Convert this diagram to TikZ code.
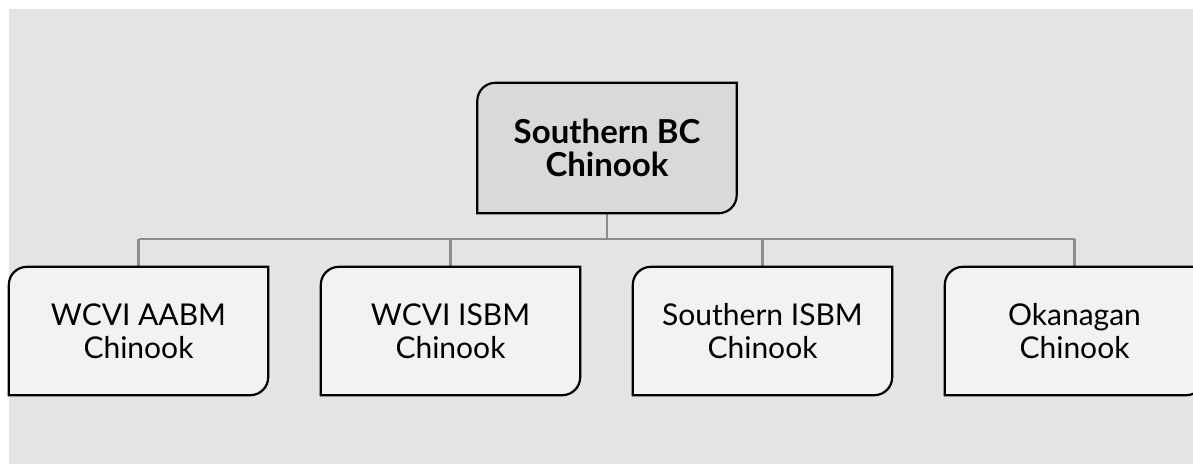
\documentclass[tikz,border=0pt]{standalone}
\usepackage{fontspec}
\setmainfont{Lato}
\definecolor{bg}{HTML}{E4E4E4}
\definecolor{topfill}{HTML}{D9D9D9}
\definecolor{childfill}{HTML}{F2F2F2}
\definecolor{conn}{HTML}{8C8C8C}
\newcommand{\leafshape}[3]{%
  \filldraw[fill=#2,draw=black,line width=2.2pt]
    (#1.south west) -- ([yshift=-#3]#1.north west)
    arc[start angle=180,end angle=90,radius=#3]
    -- (#1.north east) -- ([yshift=#3]#1.south east)
    arc[start angle=0,end angle=-90,radius=#3] -- cycle;}
\begin{document}
\begin{tikzpicture}[x=1pt,y=-1pt,
  boxnode/.style={minimum width=259pt,minimum height=128pt,inner sep=0pt,align=center,
    font=\fontsize{30}{33}\selectfont},
  rootnode/.style={boxnode,minimum height=130pt,font=\bfseries\fontsize{33}{33}\selectfont},
  connector/.style={draw=conn,line width=2.2pt}]
\useasboundingbox (0,0) rectangle (1193,464);
\clip (0,0) rectangle (1193,464);
\fill[bg] (9,9) rectangle (1193,464);
% nodes (positions)
\node[rootnode] (root) at (607,148) {};
\node[boxnode] (a) at (138.5,331) {};
\node[boxnode] (b) at (450.5,331) {};
\node[boxnode] (c) at (762.5,331) {};
\node[boxnode] (d) at (1074.5,331) {};
\coordinate (bus) at (607,239);
% connectors
\draw[connector] (root.south) -- (bus);
\draw[connector] (a.north |- bus) -- (d.north |- bus);
\foreach \n in {a,b,c,d} \draw[connector] (\n.north |- bus) -- (\n.north);
% shapes
\leafshape{root}{topfill}{18pt}
\foreach \n in {a,b,c,d} {\leafshape{\n}{childfill}{18pt}}
% texts
\node[rootnode] at (root) {Southern BC\\Chinook};
\node[boxnode] at (a) {WCVI AABM\\Chinook};
\node[boxnode] at (b) {WCVI ISBM\\Chinook};
\node[boxnode] at (c) {Southern ISBM\\Chinook};
\node[boxnode] at (d) {Okanagan\\Chinook};
\end{tikzpicture}
\end{document}
